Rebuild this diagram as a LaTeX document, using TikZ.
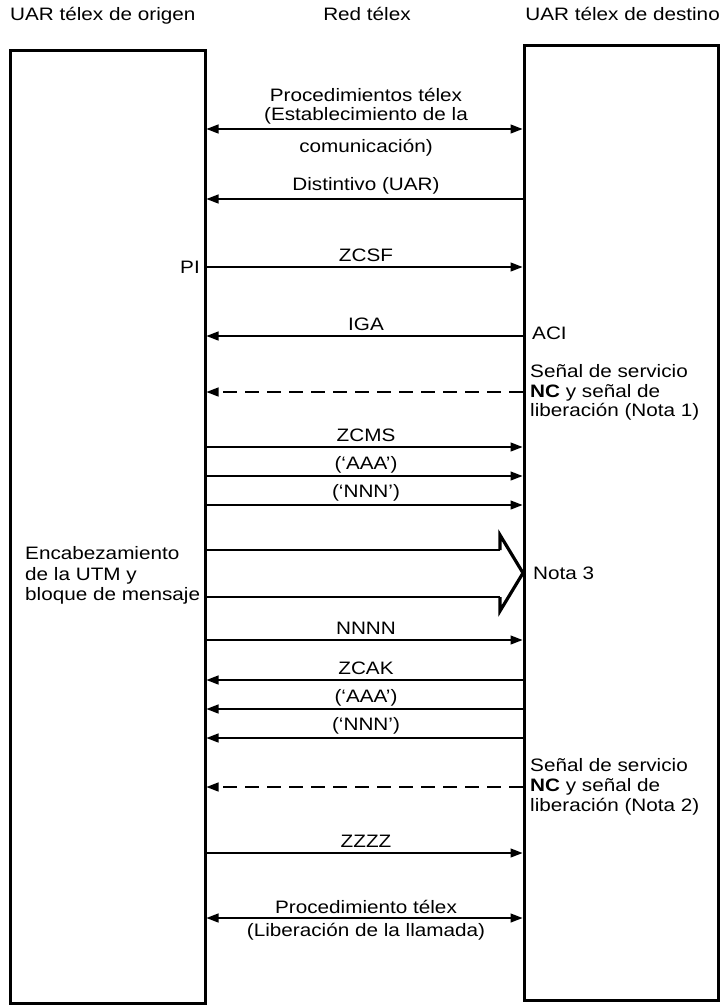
\documentclass[tikz,border=0pt]{standalone}
\usepackage{fontspec}
\setmainfont[FakeStretch=1.15]{Liberation Sans}
\usetikzlibrary{arrows.meta}
\tikzset{
  box/.style={draw, line width=3pt, inner sep=0pt},
  sig/.style={line width=1.3pt, -{Triangle[length=12pt,width=9pt]}},
  dsig/.style={line width=1.3pt, {Triangle[length=12pt,width=9pt]}-{Triangle[length=12pt,width=9pt]}},
  dash sig/.style={sig, dash pattern=on 14pt off 8pt},
  lbl/.style={anchor=base, inner sep=0pt},
  note/.style={anchor=base west, inner sep=0pt, align=left},
  chev/.style={line width=3.2pt, line join=miter}
}
\begin{document}
\begin{tikzpicture}[x=1pt,y=-1pt, font=\fontsize{18}{20}\selectfont]
\useasboundingbox (0,0) rectangle (724,1007);
% headers
\node[note] (h1) at (10,20) {UAR télex de origen};
\node[lbl] (h2) at (367,20) {Red télex};
\node[anchor=base east, inner sep=0pt] (h3) at (720,20) {UAR télex de destino};
% boxes
\node[box, minimum width=195pt, minimum height=953pt] (L) at (107.5,526.5) {};
\node[box, minimum width=194pt, minimum height=955pt] (R) at (621,522.5) {};
% 1
\draw[dsig] (L.east |- 0,129) -- (R.west |- 0,129);
\node[lbl] (t1a) at (366,101) {Procedimientos télex};
\node[lbl] (t1b) at (366,120) {(Establecimiento de la};
\node[lbl] (t1c) at (366,152) {comunicación)};
% 2
\draw[sig] (R.west |- 0,199) -- (L.east |- 0,199);
\node[lbl] (t2) at (366,190) {Distintivo (UAR)};
% 3
\draw[sig] (L.east |- 0,267) -- (R.west |- 0,267);
\node[lbl] (t3) at (366,261) {ZCSF};
\node[anchor=base east, inner sep=0pt] (pi) at (200,273) {PI};
% 4
\draw[sig] (R.west |- 0,336) -- (L.east |- 0,336);
\node[lbl] (t4) at (366,330) {IGA};
\node[note] (aci) at (532,339) {ACI};
% 5
\draw[dash sig] (R.west |- 0,392) -- (L.east |- 0,392);
\node[note] (n1a) at (530,377) {Señal de servicio};
\node[note] (n1b) at (530,397) {\textbf{NC} y señal de};
\node[note] (n1c) at (530,416) {liberación (Nota 1)};
% 6-8
\draw[sig] (L.east |- 0,447) -- (R.west |- 0,447);
\node[lbl] (t6) at (366,441) {ZCMS};
\draw[sig] (L.east |- 0,476) -- (R.west |- 0,476);
\node[lbl] (t7) at (366,469) {(‘AAA’)};
\draw[sig] (L.east |- 0,505) -- (R.west |- 0,505);
\node[lbl] (t8) at (366,497) {(‘NNN’)};
% big arrow
\coordinate (bu) at (500,550);
\coordinate (bl) at (500,597);
\draw[line width=1.3pt] (L.east |- bu) -- (bu);
\draw[line width=1.3pt] (L.east |- bl) -- (bl);
\draw[chev] (bu) -- (500,535) -- (523,573) -- (500,611) -- (bl);
\node[note] (n3) at (533,579) {Nota 3};
\node[note] (enc1) at (25,559) {Encabezamiento};
\node[note] (enc2) at (25,580) {de la UTM y};
\node[note] (enc3) at (25,600) {bloque de mensaje};
% 10
\draw[sig] (L.east |- 0,640) -- (R.west |- 0,640);
\node[lbl] (t10) at (366,634) {NNNN};
% 11-13
\draw[sig] (R.west |- 0,680) -- (L.east |- 0,680);
\node[lbl] (t11) at (366,674) {ZCAK};
\draw[sig] (R.west |- 0,709) -- (L.east |- 0,709);
\node[lbl] (t12) at (366,702) {(‘AAA’)};
\draw[sig] (R.west |- 0,738) -- (L.east |- 0,738);
\node[lbl] (t13) at (366,730) {(‘NNN’)};
% 14
\draw[dash sig] (R.west |- 0,787) -- (L.east |- 0,787);
\node[note] (n2a) at (530,771) {Señal de servicio};
\node[note] (n2b) at (530,791) {\textbf{NC} y señal de};
\node[note] (n2c) at (530,811) {liberación (Nota 2)};
% 15
\draw[sig] (L.east |- 0,853) -- (R.west |- 0,853);
\node[lbl] (t15) at (366,847) {ZZZZ};
% 16
\draw[dsig] (L.east |- 0,918) -- (R.west |- 0,918);
\node[lbl] (t16a) at (366,913) {Procedimiento télex};
\node[lbl] (t16b) at (366,936) {(Liberación de la llamada)};
\end{tikzpicture}
\end{document}
